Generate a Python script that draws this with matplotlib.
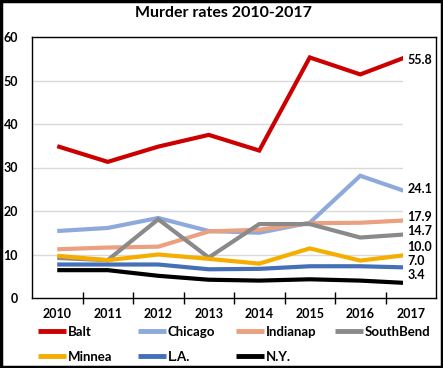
import matplotlib
matplotlib.use("Agg")
import matplotlib.pyplot as plt
from matplotlib.patches import Rectangle

years = ["2010", "2011", "2012", "2013", "2014", "2015", "2016", "2017"]
series_names = ["Balt", "Chicago", "Indianap", "SouthBend", "Minnea", "L.A.", "N.Y."]
balt = [34.9, 31.3, 34.8, 37.5, 33.9, 55.3, 51.4, 55.8]
chicago = [15.4, 16.1, 18.4, 15.4, 15.0, 17.3, 28.1, 24.1]
indianap = [11.2, 11.6, 11.8, 15.3, 15.7, 17.2, 17.3, 17.9]
southbend = [9.2, 8.7, 18.1, 9.3, 17.0, 17.0, 13.9, 14.7]
minnea = [9.7, 8.7, 10.0, 9.0, 7.9, 11.4, 8.6, 10.0]
la = [7.7, 7.7, 7.7, 6.6, 6.7, 7.3, 7.3, 7.0]
ny = [6.4, 6.4, 5.1, 4.2, 4.0, 4.3, 4.0, 3.4]
end_labels = ["55.8", "24.1", "17.9", "14.7", "10.0", "7.0", "3.4"]

series_values = [balt, chicago, indianap, southbend, minnea, la, ny]
colors = ["#CC0000", "#8EA9DB", "#EBA080", "#8A8A8A", "#F5AE00", "#4470B8", "#000000"]
label_y = [54.6, 25.0, 18.6, 15.4, 11.8, 8.5, 5.4]

FONT = "Lato"
plt.rcParams["font.family"] = [FONT, "DejaVu Sans"]

fig = plt.figure(figsize=(4.43, 3.68), dpi=100)
ax = fig.add_axes([32 / 443, 1 - 298 / 368, (436 - 32) / 443, (298 - 37) / 368])

x = list(range(len(years)))
cover_x = 6.846

for yv in [10, 20, 30, 40, 50]:
    ax.plot([-0.5, 7.5], [yv, yv], color="#D9D9D9", lw=1.0, zorder=1)

handles = {}
for name, vals, c in zip(series_names, series_values, colors):
    h, = ax.plot(x, vals, color=c, lw=3.0, label=name, zorder=2,
                 solid_joinstyle="miter", solid_capstyle="butt")
    handles[name] = h

ax.add_patch(Rectangle((cover_x, 0.25), 7.5 - cover_x, 59.6, facecolor="white",
                       edgecolor="none", zorder=2.3))

for lab, ly in zip(end_labels, label_y):
    ax.text(6.93, ly, lab, fontsize=9, fontweight="bold", va="center", ha="left",
            zorder=3)

ax.set_xlim(-0.5, 7.5)
ax.set_ylim(0, 60)
ax.set_yticks([0, 10, 20, 30, 40, 50, 60])
ax.set_xticks(x)
ax.set_xticklabels(years)
ax.set_xticks([i + 0.5 for i in range(7)], minor=True)
ax.tick_params(axis="x", which="major", length=0, pad=7, labelsize=9)
ax.tick_params(axis="x", which="minor", length=9, direction="inout", width=1)
ax.tick_params(axis="y", length=0, pad=10, labelsize=9)
for lab in ax.get_xticklabels() + ax.get_yticklabels():
    lab.set_fontweight("bold")
for s in ax.spines.values():
    s.set_linewidth(1.0)
    s.set_color("black")
    s.set_zorder(4)

fig.text(223 / 443, 1 - 13 / 368, "Murder rates 2010-2017", ha="center", va="center",
         fontsize=11.5, fontweight="bold")

columns = [["Balt", "Minnea"], ["Chicago", "L.A."], ["Indianap", "N.Y."], ["SouthBend"]]
col_x = [38, 138, 236, 335]
for names, cx in zip(columns, col_x):
    leg = fig.legend([handles[n] for n in names], names,
                     loc="upper left", bbox_to_anchor=(cx / 443, 1 - 326 / 368), ncol=1,
                     frameon=False, handlelength=2.1, handletextpad=0.15,
                     labelspacing=0.95, borderaxespad=0, borderpad=0,
                     prop={"family": [FONT, "DejaVu Sans"], "weight": "bold", "size": 9.5})
    for line in leg.get_lines():
        line.set_linewidth(3.5)

fig.patches.append(Rectangle((0.003, 0.004), 0.994, 0.992, transform=fig.transFigure,
                             fill=False, edgecolor="black", lw=2.5))

fig.savefig("out.png", dpi=100)
